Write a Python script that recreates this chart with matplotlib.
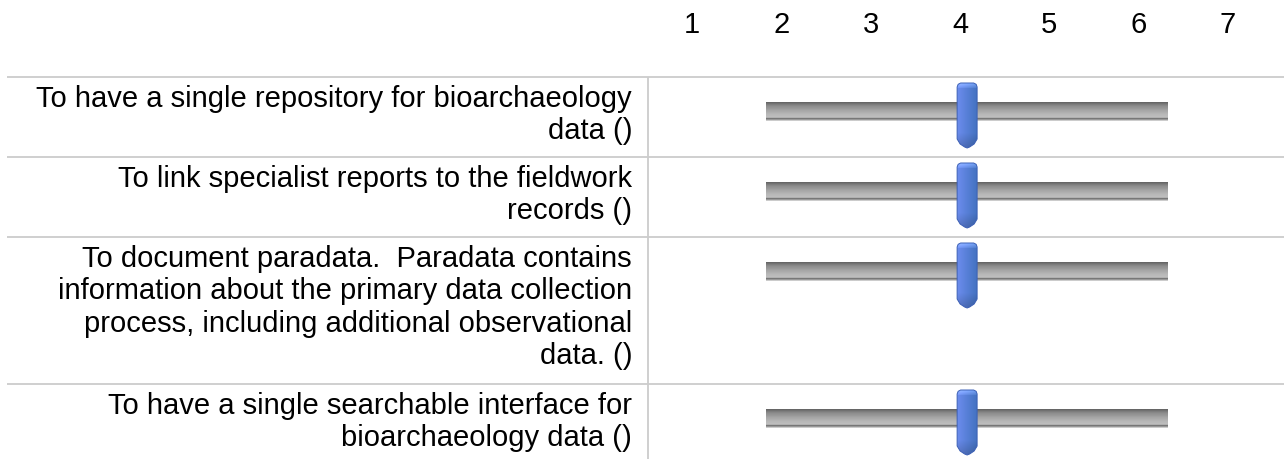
import numpy as np
import matplotlib
matplotlib.use("Agg")
import matplotlib.pyplot as plt
from matplotlib.patches import PathPatch
from matplotlib.path import Path

plt.rcParams['font.family'] = ['Liberation Sans', 'DejaVu Sans']

# Data
statements = [
    "To have a single repository for bioarchaeology\ndata ()",
    "To link specialist reports to the fieldwork\nrecords ()",
    "To document paradata.  Paradata contains\ninformation about the primary data collection\nprocess, including additional observational\ndata. ()",
    "To have a single searchable interface for\nbioarchaeology data ()",
]
scale_labels = [1, 2, 3, 4, 5, 6, 7]
mean_scores = [4.08, 4.08, 4.08, 4.08]

# Layout (pixels)
W, H = 1284, 459
row_tops = [77, 157, 237, 384]
label_right = 632
divider_x = 648
first_tick_px = 692
unit_px = 89.33
track_range = (1.83, 6.32)   # slider track extent in scale units
grid_color = '#cccccc'

fig = plt.figure(figsize=(W / 100, H / 100), dpi=100)

# background axes in pixel coords
bg = fig.add_axes([0, 0, 1, 1])
bg.set_xlim(0, W)
bg.set_ylim(H, 0)
bg.axis('off')

# slider axes in scale units (x) and pixels (y)
ax = fig.add_axes([0, 0, 1, 1])
ax.set_xlim(1 - first_tick_px / unit_px, 1 + (W - first_tick_px) / unit_px)
ax.set_ylim(H, 0)
ax.axis('off')
ax.patch.set_alpha(0)

# grid lines
for top in row_tops:
    bg.plot([7, W], [top, top], color=grid_color, lw=1.3, solid_capstyle='butt')
bg.plot([divider_x, divider_x], [row_tops[0], H], color=grid_color, lw=1.3,
        solid_capstyle='butt')

# header numbers
for v in scale_labels:
    ax.text(v, 33, str(v), ha='center', va='baseline', fontsize=21, color='black')

# gradients
track_grey = np.array([0.40, 0.45, 0.50, 0.54, 0.57, 0.59, 0.61, 0.64, 0.66, 0.68,
                       0.70, 0.72, 0.73, 0.74, 0.75, 0.45, 0.58, 0.80])
track_img = np.repeat(np.repeat(track_grey[:, None], 4, axis=1)[:, :, None], 3, axis=2)

kx = np.linspace(0, 1, 20)
left_c = np.array([0.42, 0.55, 0.93])
right_c = np.array([0.27, 0.45, 0.76])
knob_img = np.zeros((66, 20, 3))
for i in range(66):
    row = left_c[None, :] * (1 - kx[:, None]) + right_c[None, :] * kx[:, None]
    if i < 5:
        row = row + (0.18 - 0.03 * i)
    elif i > 50:
        row = row * (1 - 0.012 * (i - 50))
    knob_img[i] = np.clip(row, 0, 1)

knob_shape = [(-10, 56), (-10, 4), (-9, 1.3), (-6.5, 0), (6.5, 0), (9, 1.3), (10, 4),
              (10, 56), (7, 61), (2.5, 64), (0, 65), (-2.5, 64), (-7, 61), (-10, 56)]

for text, score, top in zip(statements, mean_scores, row_tops):
    bg.text(label_right, top + 8, text, ha='right', va='top', fontsize=21,
            color='black', linespacing=1.2)

    # track
    cy = top + 35
    ax.imshow(track_img, extent=(track_range[0], track_range[1], cy + 9.5, cy - 9.5),
              aspect='auto', interpolation='bilinear', zorder=2)

    # knob
    ktop = top + 6
    verts = [(score + dx / unit_px, ktop + dy) for dx, dy in knob_shape]
    codes = [Path.MOVETO] + [Path.LINETO] * (len(verts) - 2) + [Path.CLOSEPOLY]
    patch = PathPatch(Path(verts, codes), facecolor='none', edgecolor='#3b5fb5',
                      lw=0.7, zorder=4)
    ax.add_patch(patch)
    im = ax.imshow(knob_img, extent=(score - 10 / unit_px, score + 10 / unit_px,
                                     ktop + 65, ktop), aspect='auto',
                   interpolation='bilinear', zorder=3)
    im.set_clip_path(patch)

fig.savefig('out.png', dpi=100)
